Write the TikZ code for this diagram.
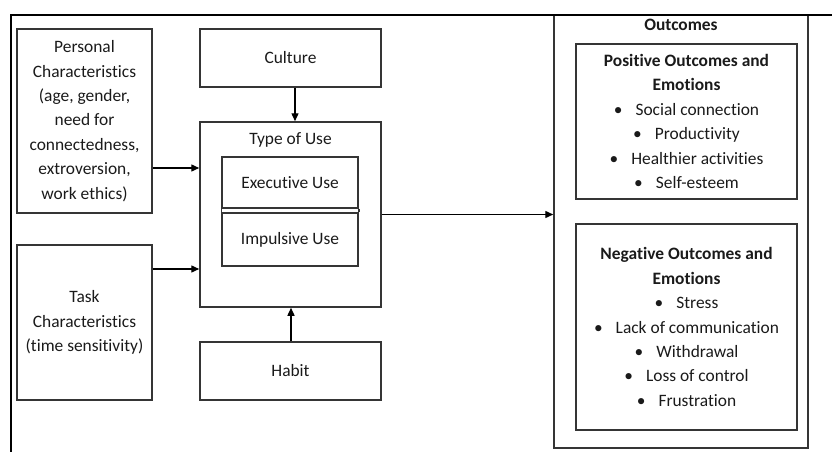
\documentclass[tikz,border=0pt]{standalone}
\usepackage{fontspec}
\setmainfont{Carlito}[RawFeature={-liga;-clig;-calt;-dlig}]
\usetikzlibrary{arrows.meta}
\definecolor{boxline}{HTML}{353535}
\definecolor{txt}{HTML}{1A1A1A}
\tikzset{
  bx/.style={draw=boxline, line width=1.5pt, rectangle, inner sep=0pt, align=center, text=txt,
    font=\fontsize{17.4}{24.4}\selectfont},
  lbl/.style={inner sep=0pt, align=center, text=txt, font=\fontsize{17.4}{24.4}\selectfont},
  arr/.style={draw=black, line width=1.4pt, -{Triangle[length=8pt,width=7pt]}},
  frame/.style={draw=black, line width=2.6pt}
}
\newcommand{\bul}{\textbullet\hspace{0.75em}}
\begin{document}
\begin{tikzpicture}[x=1pt,y=-1pt]
\useasboundingbox (0,0) rectangle (832,452);
% outcomes outer box
\node[bx, minimum width=254pt, minimum height=433pt] (outcomes) at (681,231.5) {};
\node[lbl, font=\fontsize{17.4}{24.4}\selectfont\bfseries] (outtitle) at (681,25) {Outcomes};
% thick frame
\coordinate (fa) at (11,452);
\coordinate (fb) at (11,15);
\coordinate (fc) at (832,15);
\draw[frame] (fa) -- (fb) -- (fc);
% left boxes
\node[bx, minimum width=135pt, minimum height=184pt] (personal) at (84.5,121)
  {Personal\\Characteristics\\(age, gender,\\need for\\connectedness,\\extroversion,\\work ethics)};
\node[bx, minimum width=135pt, minimum height=155pt] (task) at (84.5,322.5)
  {Task\\Characteristics\\(time sensitivity)};
% middle
\node[bx, minimum width=181pt, minimum height=58pt] (culture) at (290.5,58) {Culture};
\node[bx, minimum width=181pt, minimum height=185pt] (type) at (290.5,214.5) {};
\node[lbl] (typetitle) at (290.5,140) {Type of Use};
\node[bx, minimum width=136pt, minimum height=51pt] (exec) at (290,182.5) {Executive Use};
\node[bx, minimum width=136pt, minimum height=53pt] (imp) at (290,239.5) {Impulsive Use};
\draw[draw=boxline, line width=1.5pt] (exec.south west) -- (imp.north west);
\draw[draw=boxline, line width=1.5pt] (exec.south east) -- (imp.north east);
\node[bx, minimum width=181pt, minimum height=58pt] (habit) at (290.5,371) {Habit};
% outcome boxes
\node[bx, minimum width=221pt, minimum height=155pt] (positive) at (686.5,121.5)
  {\textbf{Positive Outcomes and}\\\textbf{Emotions}\\\bul Social connection\\\bul Productivity\\\bul Healthier activities\\\bul Self-esteem};
\node[bx, minimum width=221pt, minimum height=206pt] (negative) at (686.5,327)
  {\textbf{Negative Outcomes and}\\\textbf{Emotions}\\\bul Stress\\\bul Lack of communication\\\bul Withdrawal\\\bul Loss of control\\\bul Frustration};
% arrows
\draw[arr] (personal.east |- {(0,168)}) -- (type.west |- {(0,168)});
\draw[arr] (task.east |- {(0,269)}) -- (type.west |- {(0,269)});
\draw[arr] (culture.south -| {(295,0)}) -- (type.north -| {(295,0)});
\draw[arr] (habit.north -| {(291,0)}) -- (type.south -| {(291,0)});
\draw[arr] (type.east) -- (outcomes.west |- type.east);
\end{tikzpicture}
\end{document}
